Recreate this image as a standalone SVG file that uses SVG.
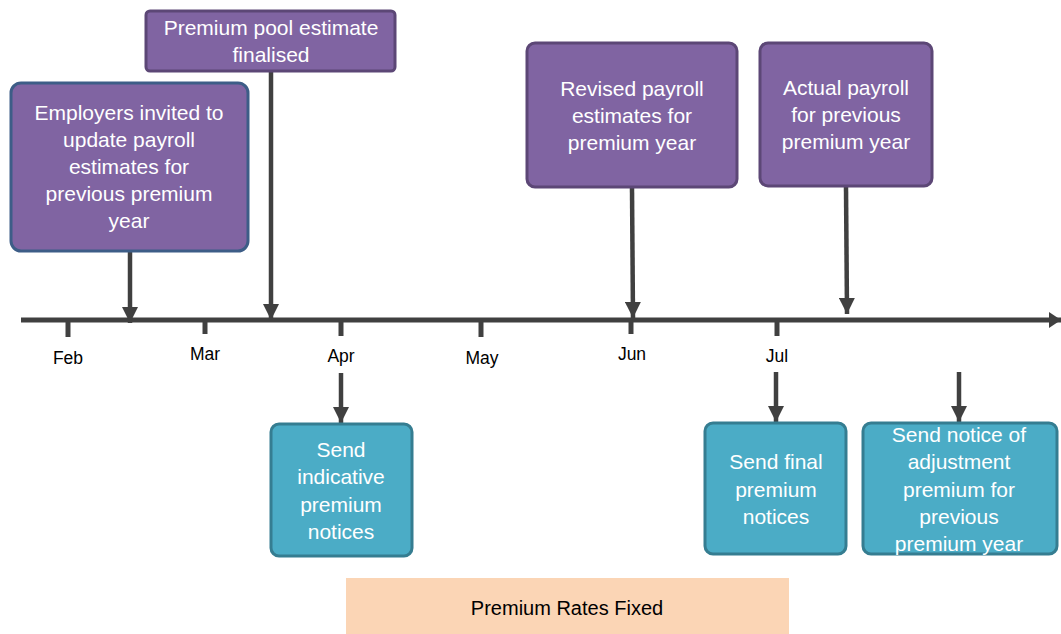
<svg xmlns="http://www.w3.org/2000/svg" width="1061" height="634" viewBox="0 0 1061 634">
<defs>
<marker id="ah" markerUnits="userSpaceOnUse" markerWidth="16" markerHeight="16" refX="16" refY="8" orient="auto" viewBox="0 0 16 16"><path d="M0,0 L16,8 L0,16 z" fill="#404040"/></marker>
<marker id="ah2" markerUnits="userSpaceOnUse" markerWidth="12" markerHeight="16" refX="12" refY="8" orient="auto" viewBox="0 0 12 16"><path d="M0,0 L12,8 L0,16 z" fill="#404040"/></marker>
<style>
.pb{fill:#8064a2;stroke:#5c4776;stroke-width:3}
.pb2{fill:#8064a2;stroke:#3d5d87;stroke-width:3}
.tb{fill:#4bacc6;stroke:#357d91;stroke-width:3}
.t{font-family:"Liberation Sans",Arial,sans-serif;font-size:21px;fill:#ffffff;text-anchor:middle}
.m{font-family:"Liberation Sans",Arial,sans-serif;font-size:17.5px;fill:#000000;text-anchor:middle}
.c{stroke:#404040;stroke-width:4.5;fill:none}
.tk{stroke:#404040;stroke-width:5}
</style>
</defs>
<g id="timeline">
<line x1="21" y1="320" x2="1061" y2="320" stroke="#404040" stroke-width="5" marker-end="url(#ah2)"/>
<line class="tk" x1="68" y1="320" x2="68" y2="337"/>
<line class="tk" x1="205" y1="320" x2="205" y2="334"/>
<line class="tk" x1="341" y1="320" x2="341" y2="336"/>
<line class="tk" x1="481" y1="320" x2="481" y2="337"/>
<line class="tk" x1="631" y1="320" x2="631" y2="334"/>
<line class="tk" x1="777" y1="320" x2="777" y2="336"/>
<text class="m" x="68" y="364">Feb</text>
<text class="m" x="205" y="360">Mar</text>
<text class="m" x="341" y="362">Apr</text>
<text class="m" x="482" y="364">May</text>
<text class="m" x="632" y="360">Jun</text>
<text class="m" x="777" y="362">Jul</text>
</g>
<g id="connectors">
<line class="c" x1="130" y1="252" x2="130" y2="323" marker-end="url(#ah)"/>
<line class="c" x1="271" y1="72" x2="271" y2="320" marker-end="url(#ah)"/>
<line class="c" x1="632" y1="188" x2="633" y2="318" marker-end="url(#ah)"/>
<line class="c" x1="846" y1="187" x2="847" y2="314" marker-end="url(#ah)"/>
<line class="c" x1="341" y1="373" x2="341" y2="423" marker-end="url(#ah)"/>
<line class="c" x1="776" y1="372" x2="776" y2="422" marker-end="url(#ah)"/>
<line class="c" x1="959" y1="372" x2="959" y2="422" marker-end="url(#ah)"/>
</g>
<g id="employers">
<rect class="pb2" x="11" y="83" width="237" height="168" rx="10"/>
<text class="t" x="129" y="120">Employers invited to</text>
<text class="t" x="129" y="147">update payroll</text>
<text class="t" x="129" y="174">estimates for</text>
<text class="t" x="129" y="201">previous premium</text>
<text class="t" x="129" y="228">year</text>
</g>
<g id="pool">
<rect class="pb" x="146" y="11" width="249" height="60" rx="4"/>
<text class="t" x="271" y="35">Premium pool estimate</text>
<text class="t" x="271" y="62">finalised</text>
</g>
<g id="revised">
<rect class="pb" x="527" y="43" width="210" height="144" rx="8"/>
<text class="t" x="632" y="96">Revised payroll</text>
<text class="t" x="632" y="123">estimates for</text>
<text class="t" x="632" y="150">premium year</text>
</g>
<g id="actual">
<rect class="pb" x="760" y="43" width="172" height="143" rx="8"/>
<text class="t" x="846" y="95">Actual payroll</text>
<text class="t" x="846" y="122">for previous</text>
<text class="t" x="846" y="149">premium year</text>
</g>
<g id="indicative">
<rect class="tb" x="271" y="424" width="141" height="132" rx="8"/>
<text class="t" x="341" y="457">Send</text>
<text class="t" x="341" y="484">indicative</text>
<text class="t" x="341" y="512">premium</text>
<text class="t" x="341" y="539">notices</text>
</g>
<g id="final">
<rect class="tb" x="705" y="423" width="141" height="131" rx="8"/>
<text class="t" x="776" y="469">Send final</text>
<text class="t" x="776" y="497">premium</text>
<text class="t" x="776" y="524">notices</text>
</g>
<g id="adjustment">
<rect class="tb" x="863" y="423" width="194" height="131" rx="8"/>
<text class="t" x="959" y="442">Send notice of</text>
<text class="t" x="959" y="469">adjustment</text>
<text class="t" x="959" y="497">premium for</text>
<text class="t" x="959" y="524">previous</text>
<text class="t" x="959" y="551">premium year</text>
</g>
<g id="rates">
<rect x="346" y="578" width="443" height="56" fill="#fbd5b5"/>
<text x="567" y="615" font-family="Liberation Sans, Arial, sans-serif" font-size="20" fill="#000000" text-anchor="middle">Premium Rates Fixed</text>
</g>
</svg>
